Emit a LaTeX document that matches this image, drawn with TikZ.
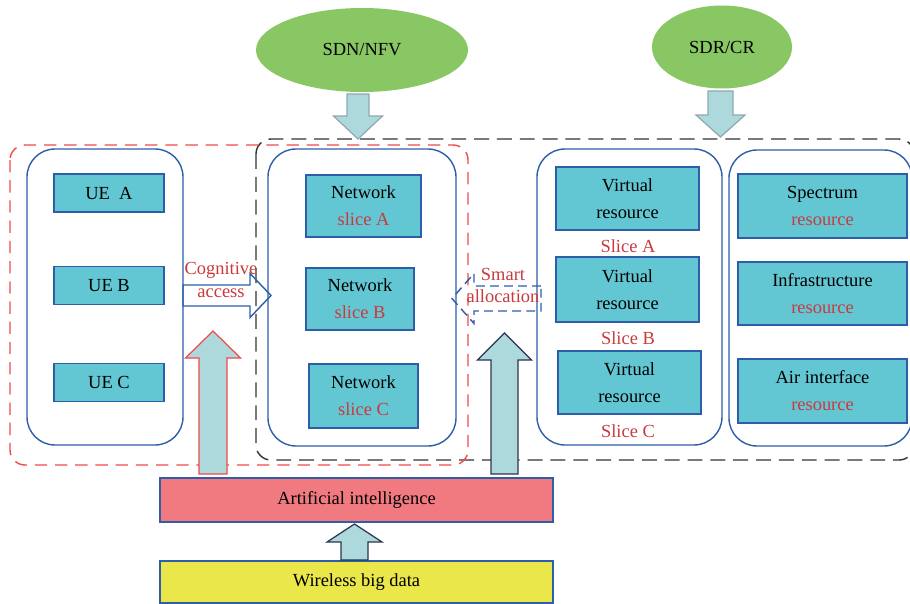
\documentclass[tikz,border=0pt]{standalone}
\usepackage{fontspec}
\setmainfont{Liberation Serif}
\usetikzlibrary{shapes.geometric}

\definecolor{cellfill}{RGB}{99,199,211}
\definecolor{cellline}{RGB}{46,93,170}
\definecolor{txtred}{RGB}{200,58,62}
\definecolor{ovalgreen}{RGB}{136,199,100}
\definecolor{arrfill}{RGB}{173,216,220}
\definecolor{arrgrey}{RGB}{143,169,176}
\definecolor{arrdark}{RGB}{43,53,80}
\definecolor{aifill}{RGB}{241,122,128}
\definecolor{datafill}{RGB}{233,231,74}
\definecolor{dashred}{RGB}{240,74,74}
\definecolor{dashgrey}{RGB}{51,51,51}

% block arrows: style, x, y start, y tip, shaft, head, head length
\newcommand{\vblock}[7]{\draw[#1] ({#2-#5/2},#3) -- ({#2-#5/2},{#4-(#7)}) -- ({#2-#6/2},{#4-(#7)}) -- (#2,#4)
  -- ({#2+#6/2},{#4-(#7)}) -- ({#2+#5/2},{#4-(#7)}) -- ({#2+#5/2},#3) -- cycle;}
% style, y, x start, x tip, shaft, head, head length
\newcommand{\hblock}[7]{\draw[#1] (#3,{#2-#5/2}) -- ({#4-(#7)},{#2-#5/2}) -- ({#4-(#7)},{#2-#6/2}) -- (#4,#2)
  -- ({#4-(#7)},{#2+#6/2}) -- ({#4-(#7)},{#2+#5/2}) -- (#3,{#2+#5/2}) -- cycle;}

\begin{document}
\begin{tikzpicture}[x=0.2mm,y=-0.2mm,
  every node/.style={font=\fontsize{10.5}{15.3}\selectfont,align=center},
  cell/.style={draw=cellline,line width=0.8pt,fill=cellfill,inner sep=0pt},
  holder/.style={draw=cellline,line width=0.8pt,rounded corners=5.6mm},
  oval/.style={ellipse,fill=ovalgreen,inner sep=0pt},
  redtxt/.style={text=txtred},
  bigarr/.style={fill=arrfill,line width=0.7pt}]
\useasboundingbox (0,0) rectangle (910,604);

% dashed frames
\draw[dashgrey,line width=0.8pt,dash pattern=on 8.5pt off 4.5pt,rounded corners=3mm] (256,139) rectangle (914,460);
\draw[dashred,line width=0.8pt,dash pattern=on 7pt off 4.5pt,rounded corners=3mm] (10,145) rectangle (468,465);

% containers
\draw[holder] (27,149) rectangle (183,445);
\draw[holder] (268,149) rectangle (456,446);
\draw[holder] (537,149) rectangle (722,445);
\draw[holder] (729,150) rectangle (912,446);

% top controllers
\node[oval,minimum width=42.4mm,minimum height=16.8mm] (sdn) at (362,50) {SDN/NFV};
\node[oval,minimum width=28mm,minimum height=16.6mm] (sdr) at (722,47) {SDR/CR};

% user equipment
\node[cell,minimum width=22mm,minimum height=7.6mm] (uea) at (109,193) {UE~~A};
\node[cell,minimum width=22mm,minimum height=7.6mm] (ueb) at (109,285.5) {UE B};
\node[cell,minimum width=22mm,minimum height=7.6mm] (uec) at (109,382.5) {UE C};

% network slices
\node[cell,minimum width=23mm,minimum height=12.4mm] (nsa) at (363.5,206) {Network\\\textcolor{txtred}{slice A}};
\node[cell,minimum width=21.6mm,minimum height=12.4mm] (nsb) at (360,299) {Network\\\textcolor{txtred}{slice B}};
\node[cell,minimum width=21.8mm,minimum height=12.8mm] (nsc) at (363.5,396) {Network\\\textcolor{txtred}{slice C}};

% virtual resources
\node[cell,minimum width=28.6mm,minimum height=12.6mm] (vra) at (627.5,198.5) {Virtual\\resource};
\node[cell,minimum width=28.6mm,minimum height=13mm] (vrb) at (627.5,289.5) {Virtual\\resource};
\node[cell,minimum width=28.6mm,minimum height=12.6mm] (vrc) at (629.5,382.5) {Virtual\\resource};
\node[redtxt] (sla) at (628,246) {Slice A};
\node[redtxt] (slb) at (628,338) {Slice B};
\node[redtxt] (slc) at (628,431) {Slice C};

% physical resources
\node[cell,minimum width=33.8mm,minimum height=12.8mm] (spec) at (822.5,206) {Spectrum\\\textcolor{txtred}{resource}};
\node[cell,minimum width=33.8mm,minimum height=12.6mm] (infra) at (822.5,293.5) {Infrastructure\\\textcolor{txtred}{resource}};
\node[cell,minimum width=33.8mm,minimum height=12.8mm] (air) at (822.5,391) {Air interface\\\textcolor{txtred}{resource}};

% bottom layers
\node[cell,fill=aifill,minimum width=78.6mm,minimum height=8.8mm] (ai) at (356.5,500) {Artificial intelligence};
\node[cell,fill=datafill,minimum width=78.6mm,minimum height=8.4mm] (data) at (356.5,582) {Wireless big data};

% block arrows
\vblock{bigarr,draw=arrgrey}{358}{94}{139}{22}{49}{23}
\vblock{bigarr,draw=arrgrey}{720.5}{91}{137}{25}{49}{22}
\vblock{bigarr,draw=dashred}{213}{474}{331}{28}{55}{-27}
\vblock{bigarr,draw=arrdark}{504.5}{474}{333}{27}{54}{-27}
\vblock{bigarr,draw=arrdark}{354.5}{560}{524}{27}{55}{-18}
\hblock{draw=cellline,line width=0.8pt}{295.5}{183}{271}{21}{44}{21}
\hblock{draw=cellline,line width=0.8pt,dash pattern=on 5pt off 3pt}{298.5}{541}{452}{25}{50}{-22}

\node[redtxt,font=\fontsize{10.5}{13}\selectfont] (cog) at (221,280) {Cognitive\\access};
\node[redtxt,font=\fontsize{10.5}{12.5}\selectfont] (smart) at (503,285) {Smart\\allocation};
\end{tikzpicture}
\end{document}
